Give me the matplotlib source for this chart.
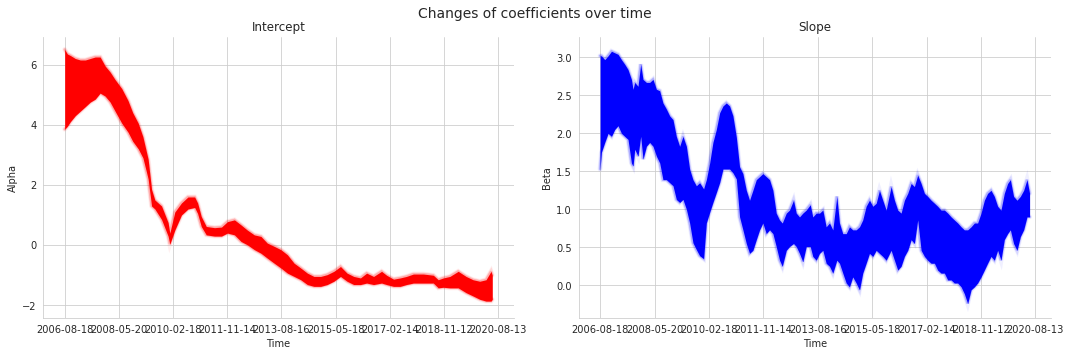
import numpy as np
import pandas as pd
import matplotlib
matplotlib.use("Agg")
import matplotlib.pyplot as plt
import seaborn as sns

# ---------------- data ----------------
start_date = "2006-08-18"

# Intercept (alpha): days since start, upper and lower edge of the posterior band
alpha_days = [0, 32, 67, 125, 184, 243, 301, 360, 418, 477, 536, 594, 673, 747, 802,
              867, 922, 984, 1024, 1063, 1142, 1219, 1239, 1298, 1376, 1453, 1532,
              1567, 1610, 1669, 1766, 1848, 1918, 2001, 2079, 2153, 2235, 2313, 2387,
              2469, 2548, 2625, 2704, 2782, 2860, 2938, 3017, 3094, 3173, 3251, 3328,
              3407, 3486, 3559, 3641, 3735, 3794, 3876, 3954, 4028, 4110, 4227, 4345,
              4403, 4462, 4540, 4638, 4731, 4813, 4892, 4966, 5025, 5040]
alpha_hi = [6.5, 6.35, 6.3, 6.2, 6.15, 6.15, 6.2, 6.25, 6.25, 5.95, 5.75, 5.5, 5.2, 4.8,
            4.4, 4.05, 3.6, 2.85, 1.85, 1.5, 1.3, 0.75, 0.4, 1.1, 1.4, 1.6, 1.6, 1.4,
            0.95, 0.62, 0.58, 0.6, 0.78, 0.84, 0.67, 0.5, 0.34, 0.29, 0.07, -0.04,
            -0.15, -0.32, -0.6, -0.76, -0.93, -1.04, -1.04, -0.98, -0.87, -0.71, -0.93,
            -1.04, -1.09, -0.93, -1.04, -0.87, -1.0, -1.13, -1.09, -1.04, -0.96, -0.96,
            -1.0, -1.15, -1.09, -1.04, -0.87, -1.04, -1.15, -1.2, -1.15, -0.87, -1.0]
alpha_lo = [3.85, 3.95, 4.1, 4.3, 4.45, 4.6, 4.75, 4.85, 5.05, 4.95, 4.75, 4.45, 4.05,
            3.75, 3.45, 3.2, 2.9, 2.2, 1.3, 1.2, 0.85, 0.3, 0.03, 0.5, 1.0, 1.2, 1.25,
            1.05, 0.62, 0.34, 0.3, 0.3, 0.4, 0.34, 0.12, 0.01, -0.15, -0.27, -0.43,
            -0.6, -0.76, -0.93, -1.04, -1.15, -1.31, -1.37, -1.37, -1.31, -1.2, -1.04,
            -1.2, -1.31, -1.31, -1.26, -1.31, -1.26, -1.31, -1.37, -1.37, -1.31, -1.26,
            -1.26, -1.26, -1.42, -1.4, -1.42, -1.42, -1.58, -1.69, -1.8, -1.86, -1.86,
            -1.8]

# Slope (beta): days since start, upper and lower edge of the posterior band
beta_days = [0, 16, 55, 94, 134, 172, 211, 251, 289, 328, 368, 387, 407, 445, 477, 504,
             544, 582, 621, 661, 700, 738, 778, 817, 856, 895, 934, 973, 1013, 1051,
             1090, 1130, 1168, 1215, 1247, 1286, 1324, 1364, 1403, 1442, 1481, 1520,
             1559, 1599, 1637, 1676, 1716, 1754, 1793, 1833, 1872, 1910, 1950, 1989,
             2028, 2067, 2106, 2138, 2185, 2223, 2270, 2302, 2340, 2379, 2419, 2466,
             2496, 2536, 2575, 2614, 2653, 2692, 2731, 2778, 2809, 2848, 2888, 2926,
             2965, 3005, 3044, 3082, 3122, 3161, 3200, 3240, 3278, 3317, 3357, 3415,
             3454, 3493, 3532, 3571, 3610, 3650, 3688, 3727, 3767, 3806, 3844, 3884,
             3923, 3961, 4001, 4040, 4079, 4119, 4157, 4196, 4236, 4274, 4313, 4353,
             4392, 4430, 4470, 4509, 4547, 4587, 4626, 4665, 4704, 4743, 4782, 4814,
             4852, 4892, 4931, 4970, 5009, 5040]
beta_hi = [3.02, 3.02, 2.97, 3.02, 3.08, 3.06, 3.04, 2.97, 2.91, 2.84, 2.71, 2.58, 2.67,
           2.62, 2.91, 2.71, 2.67, 2.67, 2.71, 2.58, 2.56, 2.40, 2.32, 2.23, 2.18, 1.96,
           1.83, 1.96, 1.83, 1.53, 1.39, 1.31, 1.35, 1.27, 1.39, 1.61, 1.88, 2.05, 2.27,
           2.36, 2.40, 2.36, 2.23, 1.95, 1.56, 1.47, 1.25, 1.12, 1.25, 1.39, 1.43, 1.47,
           1.43, 1.39, 1.25, 0.95, 0.86, 0.82, 0.95, 0.99, 1.12, 0.95, 0.90, 0.95, 0.99,
           1.06, 0.90, 0.95, 0.95, 0.99, 0.77, 0.82, 0.73, 1.17, 0.82, 0.68, 0.68, 0.77,
           0.73, 0.73, 0.77, 0.86, 1.04, 1.12, 1.04, 1.08, 1.25, 1.12, 0.99, 1.30, 1.12,
           0.99, 0.95, 1.12, 1.21, 1.34, 1.30, 1.45, 1.34, 1.21, 1.17, 1.12, 1.08, 1.04,
           0.99, 0.99, 0.95, 0.90, 0.86, 0.82, 0.77, 0.73, 0.73, 0.77, 0.82, 0.82, 0.95,
           1.12, 1.21, 1.25, 1.17, 1.04, 0.99, 1.21, 1.34, 1.39, 1.17, 1.12, 1.17, 1.25,
           1.39, 1.21]
beta_lo = [1.53, 1.75, 1.88, 2.0, 1.96, 2.05, 2.1, 2.0, 1.96, 1.92, 1.61, 1.57, 1.79,
           1.70, 1.96, 1.66, 1.83, 1.88, 1.83, 1.70, 1.61, 1.39, 1.39, 1.35, 1.31, 1.13,
           1.09, 1.13, 1.0, 0.82, 0.56, 0.47, 0.39, 0.35, 0.82, 0.96, 1.09, 1.22, 1.35,
           1.53, 1.53, 1.53, 1.48, 1.40, 0.90, 0.73, 0.55, 0.42, 0.46, 0.60, 0.73, 0.82,
           0.68, 0.73, 0.68, 0.51, 0.33, 0.25, 0.46, 0.51, 0.55, 0.51, 0.42, 0.31, 0.51,
           0.51, 0.38, 0.33, 0.42, 0.46, 0.29, 0.25, 0.16, 0.33, 0.29, 0.16, 0.03, -0.02,
           0.11, 0.03, -0.06, 0.16, 0.29, 0.42, 0.38, 0.46, 0.42, 0.38, 0.33, 0.46, 0.33,
           0.20, 0.25, 0.38, 0.46, 0.60, 0.55, 0.86, 0.46, 0.38, 0.33, 0.29, 0.29, 0.20,
           0.16, 0.16, 0.07, 0.07, 0.03, 0.03, -0.02, -0.11, -0.24, -0.06, -0.02, 0.03,
           0.11, 0.20, 0.29, 0.38, 0.33, 0.46, 0.33, 0.60, 0.68, 0.73, 0.55, 0.46, 0.64,
           0.73, 0.90, 0.90]

tick_labels = ["2006-08-18", "2008-05-20", "2010-02-18", "2011-11-14", "2013-08-16",
               "2015-05-18", "2017-02-14", "2018-11-12", "2020-08-13"]

# ---------------- drawing ----------------
sns.set_style("whitegrid")
plt.rcParams["font.family"] = ["DejaVu Sans"]

fig = plt.figure(figsize=(15, 5), dpi=71.27)
ax1 = fig.add_axes([0.0405, 0.1067, 0.440, 0.789])
ax2 = fig.add_axes([0.5412, 0.1067, 0.442, 0.789])

t0 = pd.Timestamp(start_date)
xa = t0 + pd.to_timedelta(alpha_days, unit="D")
xb = t0 + pd.to_timedelta(beta_days, unit="D")
ticks = pd.to_datetime(tick_labels)


def band(ax, x, lo, hi, color):
    # soft, feathered edge like many overlaid translucent traces
    for lw, a in [(5.0, 0.06), (3.5, 0.10), (2.2, 0.20)]:
        ax.plot(x, hi, color=color, lw=lw, alpha=a, zorder=3, solid_joinstyle="miter")
        ax.plot(x, lo, color=color, lw=lw, alpha=a, zorder=3, solid_joinstyle="miter")
    ax.fill_between(x, lo, hi, color=color, lw=0, alpha=1.0, zorder=4)


band(ax1, xa, alpha_lo, alpha_hi, "red")
band(ax2, xb, beta_lo, beta_hi, "blue")

ax1.set_ylim(-2.42, 6.92)
ax2.set_ylim(-0.43, 3.27)
ax1.set_yticks([-2, 0, 2, 4, 6])
ax2.set_yticks([0.0, 0.5, 1.0, 1.5, 2.0, 2.5, 3.0])

for ax, title, ylab in [(ax1, "Intercept", "Alpha"), (ax2, "Slope", "Beta")]:
    ax.margins(x=0.05)
    ax.set_xticks(ticks)
    ax.set_xticklabels(tick_labels)
    ax.set_title(title, fontsize=12)
    ax.set_xlabel("Time", fontsize=10)
    ax.set_ylabel(ylab, fontsize=10)
    ax.tick_params(labelsize=10)
    ax.grid(True, zorder=0)
    ax.set_axisbelow(True)
    sns.despine(ax=ax)

fig.suptitle("Changes of coefficients over time", fontsize=14, y=0.98)

fig.savefig("out.png", dpi=71.27)
